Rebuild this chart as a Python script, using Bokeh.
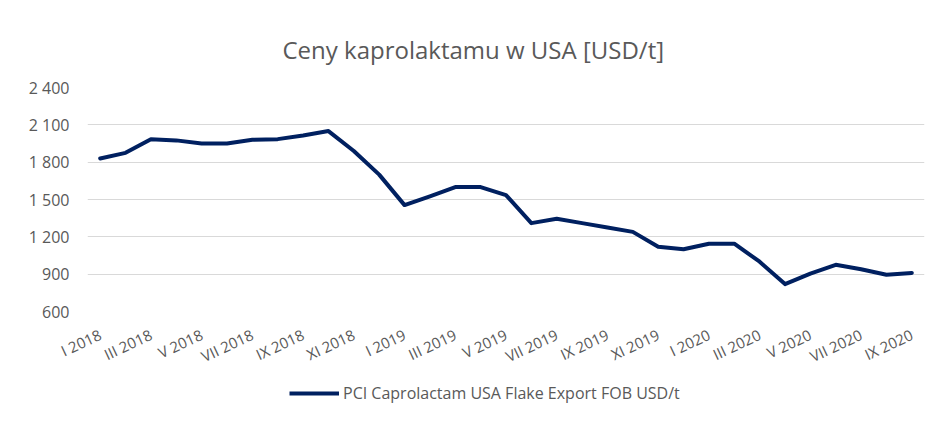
import math
from bokeh.plotting import figure
from bokeh.layouts import column
from bokeh.models import ColumnDataSource, FixedTicker, Legend, LegendItem
from bokeh.embed import file_html
from bokeh.resources import INLINE

# Categories (months, Roman numeral + year)
romans = ["I", "II", "III", "IV", "V", "VI", "VII", "VIII", "IX", "X", "XI", "XII"]
months = ([f"{r} 2018" for r in romans] + [f"{r} 2019" for r in romans]
          + [f"{r} 2020" for r in romans[:9]])

# PCI Caprolactam USA Flake Export FOB USD/t
prices = [1830, 1875, 1985, 1975, 1950, 1950, 1980, 1985, 2015, 2050, 1890, 1700,
          1455, 1525, 1600, 1600, 1535, 1310, 1345, 1310, 1275, 1240, 1120, 1100,
          1145, 1145, 1000, 820, 905, 975, 940, 895, 910]

y_ticks = [600, 900, 1200, 1500, 1800, 2100, 2400]
y_labels = ["600", "900", "1 200", "1 500", "1 800", "2 100", "2 400"]

series_name = "PCI Caprolactam USA Flake Export FOB USD/t"
title_text = "Ceny kaprolaktamu w USA [USD/t]"

FONT = "Open Sans"
GREY = "#595959"
NAVY = "#002060"

idx = list(range(len(months)))
src = ColumnDataSource(data=dict(x=idx, y=prices, m=months))

p = figure(width=931, height=379, x_range=(-0.5, len(months) - 0.5),
           y_range=(y_ticks[0], y_ticks[-1]),
           output_backend="svg", toolbar_location=None,
           min_border_left=87, min_border_right=7, min_border_top=87,
           min_border_bottom=68)

p.title.text = title_text
p.title.align = "left"
p.title.offset = 195
p.title.text_font = FONT
p.title.text_font_size = "24px"
p.title.text_font_style = "normal"
p.title.text_color = GREY
p.title.standoff = 44

line = p.line("x", "y", source=src, line_color=NAVY, line_width=4,
              line_join="round", line_cap="round")

# axes
p.outline_line_color = None
p.yaxis.ticker = FixedTicker(ticks=y_ticks)
p.yaxis.major_label_overrides = {t: l for t, l in zip(y_ticks, y_labels)}
p.yaxis.axis_line_color = None
p.yaxis.major_tick_line_color = None
p.yaxis.minor_tick_line_color = None
p.yaxis.major_tick_out = 0
p.yaxis.major_label_standoff = 18
p.yaxis.major_label_text_font = FONT
p.yaxis.major_label_text_font_size = "16px"
p.yaxis.major_label_text_color = GREY

shown = idx[::2]
p.xaxis.ticker = FixedTicker(ticks=shown)
p.xaxis.major_label_overrides = {i: months[i] for i in shown}
p.xaxis.major_label_orientation = math.radians(25)
p.xaxis.axis_line_color = None
p.xaxis.major_tick_line_color = None
p.xaxis.minor_tick_line_color = None
p.xaxis.major_tick_out = 0
p.xaxis.major_label_standoff = 22
p.xaxis.major_label_text_font = FONT
p.xaxis.major_label_text_font_size = "15px"
p.xaxis.major_label_text_color = GREY

p.xgrid.grid_line_color = None
p.ygrid.ticker = FixedTicker(ticks=y_ticks[:-1])
p.ygrid.grid_line_color = "#d9d9d9"
p.ygrid.grid_line_width = 1

p.background_fill_color = "white"
p.border_fill_color = "white"

# legend strip below the chart (its key line uses the same data, out of view)
pl = figure(width=931, height=38, x_range=(0, 1), y_range=(0, 1),
            output_backend="svg", toolbar_location=None,
            x_axis_location=None, y_axis_location=None,
            min_border=0)
pl.grid.visible = False
pl.outline_line_color = None
key = pl.line("x", "y", source=src, line_color=NAVY, line_width=4)
legend = Legend(items=[LegendItem(label=series_name, renderers=[key])],
                orientation="horizontal", location=(202, 13),
                label_text_font=FONT, label_text_font_size="16px",
                label_text_color=GREY, glyph_width=50, glyph_height=14,
                border_line_color=None, background_fill_alpha=0,
                margin=0, padding=4, label_standoff=4)
pl.add_layout(legend, "center")

layout = column(p, pl, spacing=0)
open("out.html", "w").write(file_html(layout, INLINE))
